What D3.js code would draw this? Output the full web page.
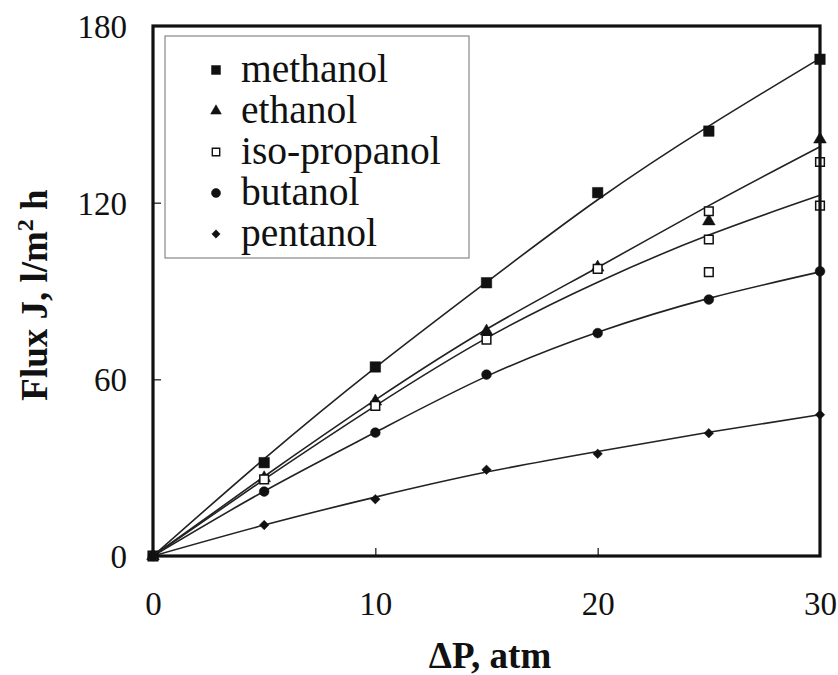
<!DOCTYPE html>
<html>
<head>
<meta charset="utf-8">
<script src="https://cdn.jsdelivr.net/npm/d3@7"></script>
<style>
  html, body { margin: 0; padding: 0; background: #fff; }
  svg { display: block; }
  svg text { font-family: "Liberation Serif", "DejaVu Serif", "Times New Roman", serif !important; fill: #111; }
</style>
</head>
<body>
<svg id="chart" width="838" height="675"></svg>
<script>
// Measured flux J (l/m² h) vs. transmembrane pressure ΔP (atm)
const pressure = [0, 5, 10, 15, 20, 25, 30];

const methanolPts = [[0, 0], [5, 31.7], [10, 64.2], [15, 92.8], [20, 123.4], [25, 144.3], [30, 168.7]];
const ethanolPts = [[0, 0], [5, 26.5], [10, 52.5], [15, 76.3], [20, 98], [25, 113.7], [30, 141.5]];
const isoPropanolPts = [[0, 0], [5, 26], [10, 51], [15, 73.5], [20, 97.5], [25, 117.1], [25, 107.5], [25, 96.4], [30, 133.8], [30, 119]];
const butanolPts = [[0, 0], [5, 21.9], [10, 41.9], [15, 61.6], [20, 75.7], [25, 87.1], [30, 96.7]];
const pentanolPts = [[0, 0], [5, 10.5], [10, 19.3], [15, 29.3], [20, 34.7], [25, 41.7], [30, 48]];

// Fitted curves, sampled at each pressure value
const methanolFit = [0, 33, 64, 93, 121, 146, 169];
const ethanolFit = [0, 27, 53, 77, 98, 119, 139];
const isoPropanolFit = [0, 26, 51, 74, 93, 109, 122.5];
const butanolFit = [0, 22, 42, 61, 76, 87.5, 96.5];
const pentanolFit = [0, 10.5, 20, 28.5, 35.5, 42, 48];

const seriesNames = ["methanol", "ethanol", "iso-propanol", "butanol", "pentanol"];
const xTicks = [0, 10, 20, 30];
const yTicks = [0, 60, 120, 180];

const SERIF = "'Liberation Serif', 'DejaVu Serif', 'Times New Roman', serif";

const series = [
  { name: seriesNames[0], pts: methanolPts, fit: methanolFit, sym: d3.symbolSquare, size: 110, lsize: 80, fill: "#111", rot: 0 },
  { name: seriesNames[1], pts: ethanolPts, fit: ethanolFit, sym: d3.symbolTriangle, size: 70, lsize: 50, fill: "#111", rot: 0 },
  { name: seriesNames[2], pts: isoPropanolPts, fit: isoPropanolFit, sym: d3.symbolSquare, size: 75, lsize: 55, fill: "#fff", rot: 0 },
  { name: seriesNames[3], pts: butanolPts, fit: butanolFit, sym: d3.symbolCircle, size: 75, lsize: 65, fill: "#111", rot: 0 },
  { name: seriesNames[4], pts: pentanolPts, fit: pentanolFit, sym: d3.symbolSquare, size: 45, lsize: 35, fill: "#111", rot: 45 }
];

const svg = d3.select("#chart");
const x = d3.scaleLinear().domain([0, 30]).range([153, 820]);
const y = d3.scaleLinear().domain([0, 180]).range([556, 26]);

// Fitted curves
const line = d3.line()
  .x((d, i) => x(pressure[i]))
  .y(d => y(d))
  .curve(d3.curveNatural);

svg.append("g").selectAll("path")
  .data(series)
  .join("path")
  .attr("d", d => line(d.fit))
  .attr("fill", "none")
  .attr("stroke", "#222")
  .attr("stroke-width", 1.6);

// Data markers
series.forEach(s => {
  svg.append("g").selectAll("path")
    .data(s.pts)
    .join("path")
    .attr("transform", d => `translate(${x(d[0])},${y(d[1])}) rotate(${s.rot})`)
    .attr("d", d3.symbol().type(s.sym).size(s.size))
    .attr("fill", s.fill)
    .attr("stroke", "#111")
    .attr("stroke-width", s.fill === "#fff" ? 1.5 : 0.5);
});

// Axes with inward ticks
const xAxis = d3.axisBottom(x).tickValues(xTicks).tickSize(-8).tickPadding(47).tickFormat(d3.format("d"));
const yAxis = d3.axisLeft(y).tickValues(yTicks).tickSize(-8).tickPadding(26).tickFormat(d3.format("d"));

const gx = svg.append("g").attr("transform", `translate(0,${y(0)})`).call(xAxis);
const gy = svg.append("g").attr("transform", `translate(${x(0)},0)`).call(yAxis);
[gx, gy].forEach(g => {
  g.attr("font-family", SERIF);
  g.select(".domain").remove();
  g.selectAll(".tick line").attr("stroke", "#111").attr("stroke-width", 1.2);
  g.selectAll(".tick text").style("font-size", "33px").style("font-family", SERIF).attr("fill", "#111");
});
gx.selectAll(".tick text").attr("dy", "0.35em");
gy.selectAll(".tick text").attr("dy", "0.35em");
gx.selectAll(".tick").filter(d => d === 0 || d === 30).select("line").remove();
gy.selectAll(".tick").filter(d => d === 0 || d === 180).select("line").remove();

// Plot frame
svg.append("rect")
  .attr("x", x(0)).attr("y", y(180))
  .attr("width", x(30) - x(0)).attr("height", y(0) - y(180))
  .attr("fill", "none").attr("stroke", "#111").attr("stroke-width", 3.2);

// Axis titles
svg.append("text")
  .attr("x", 490).attr("y", 668)
  .attr("text-anchor", "middle")
  .style("font-family", SERIF)
  .style("font-size", "37px").style("font-weight", "bold")
  .text("ΔP, atm");

const yt = svg.append("text")
  .attr("transform", "translate(47,295) rotate(-90)")
  .attr("text-anchor", "middle")
  .style("font-family", SERIF)
  .style("font-size", "37px").style("font-weight", "bold");
yt.append("tspan").text("Flux J, l/m");
yt.append("tspan").attr("dy", -14).style("font-size", "24px").text("2");
yt.append("tspan").attr("dy", 14).text(" h");

// Legend
const legend = svg.append("g");
legend.append("rect")
  .attr("x", 165).attr("y", 36).attr("width", 304).attr("height", 222)
  .attr("fill", "#fff").attr("stroke", "#888").attr("stroke-width", 1.2);

const rows = legend.selectAll("g.row")
  .data(series)
  .join("g")
  .attr("class", "row")
  .attr("transform", (d, i) => `translate(0,${70 + i * 41})`);

rows.append("path")
  .attr("transform", d => `translate(216,0) rotate(${d.rot})`)
  .attr("d", d => d3.symbol().type(d.sym).size(d.lsize)())
  .attr("fill", d => d.fill)
  .attr("stroke", "#111")
  .attr("stroke-width", d => d.fill === "#fff" ? 1.4 : 0.5);

rows.append("text")
  .attr("x", 241).attr("dy", "0.3em")
  .style("font-family", SERIF)
  .style("font-size", "39.5px")
  .text(d => d.name);
</script>
</body>
</html>
